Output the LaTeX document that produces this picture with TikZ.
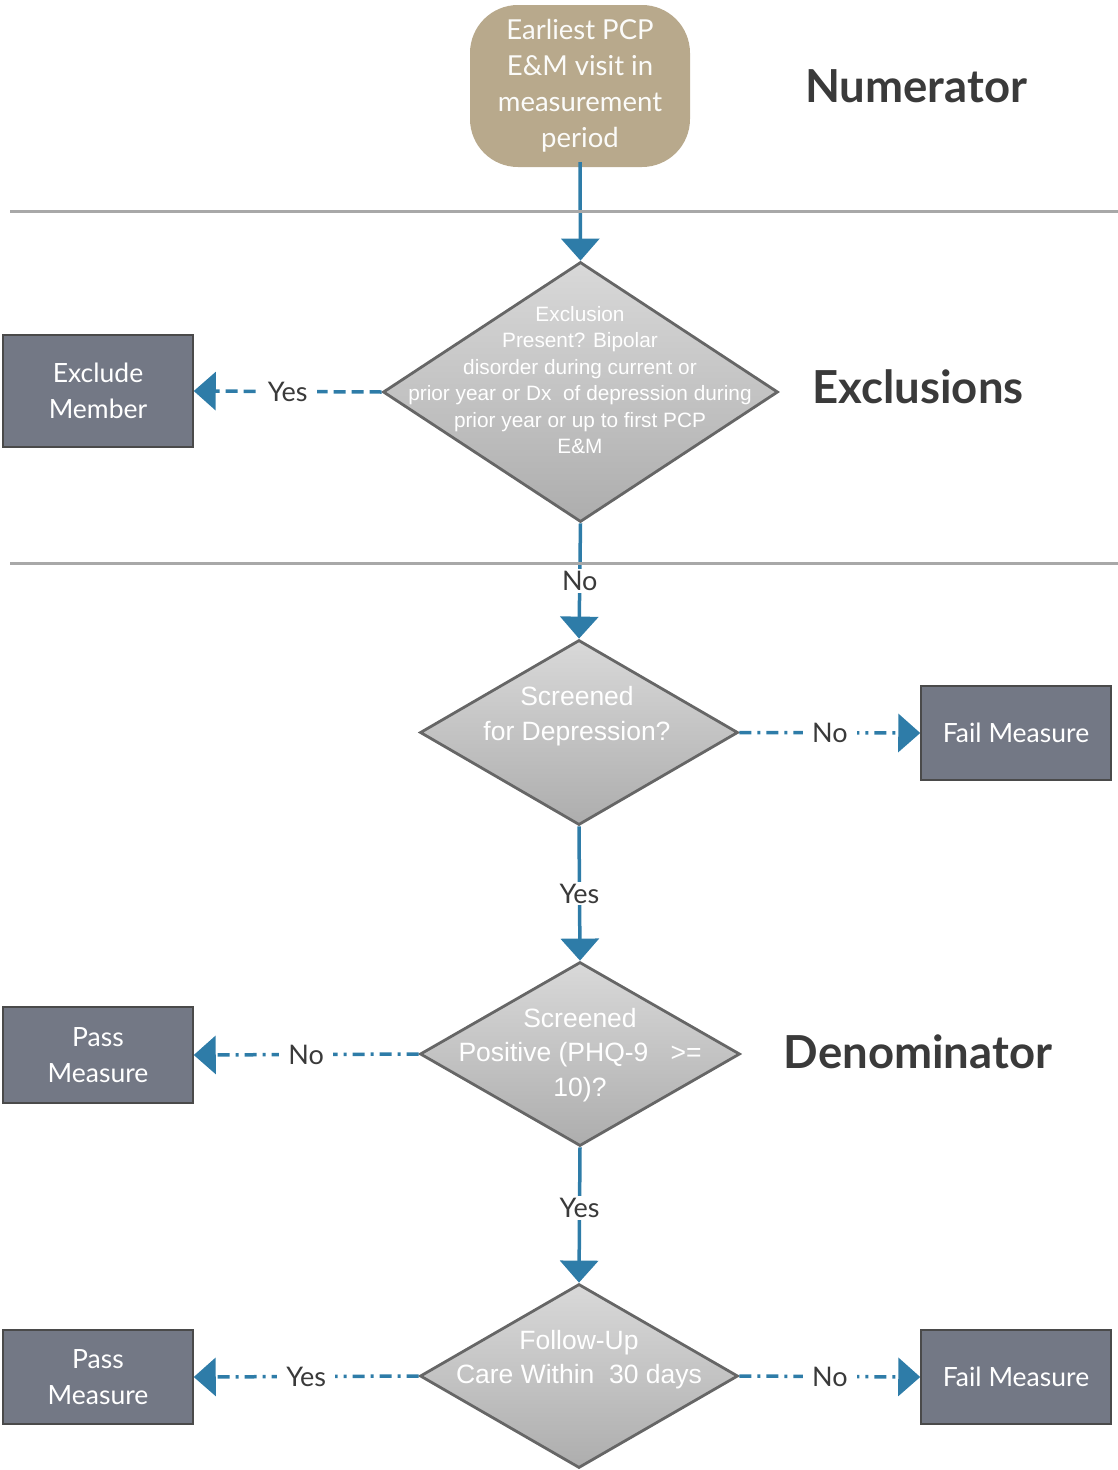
\documentclass[tikz,border=0pt]{standalone}
\usepackage{fontspec}
\setmainfont{Lato}
\newfontfamily\arialf{Liberation Sans}
\usetikzlibrary{arrows.meta,shapes.geometric}
\definecolor{flowblue}{HTML}{2E7CA8}
\definecolor{tan}{HTML}{B8A98C}
\definecolor{boxfill}{HTML}{737885}
\definecolor{boxedge}{HTML}{4A4A4A}
\definecolor{diaedge}{HTML}{666666}
\definecolor{sepgray}{HTML}{A8A8A8}
\definecolor{labgray}{HTML}{3A3A3A}
\tikzset{
  term/.style={rounded corners=48pt, fill=tan, draw=none, text=white!95!tan,
    font=\fontsize{27.5}{36}\selectfont, align=center, inner sep=0pt,
    minimum width=220pt, minimum height=162pt},
  dia/.style={diamond, draw=diaedge, line width=2.8pt, top color=black!15, bottom color=black!32,
    inner sep=0pt},
  dtext/.style={text=white, align=center, inner sep=0pt},
  outbox/.style={rectangle, fill=boxfill, draw=boxedge, line width=1.5pt, text=white,
    font=\fontsize{26.5}{36}\selectfont, align=center, minimum width=190pt, inner sep=0pt},
  title/.style={font=\fontsize{45.5}{50}\selectfont\bfseries, text=labgray},
  flow/.style={draw=flowblue, line width=3.5pt, -{Triangle[width=38pt,length=22pt]}},
  lab/.style={fill=white, text=labgray, font=\fontsize{27}{30}\selectfont, inner xsep=9pt, inner ysep=2pt},
  dashA/.style={dash pattern=on 12pt off 6pt},
  dashB/.style={dash pattern=on 12pt off 6pt on 3pt off 6pt},
  sep/.style={draw=sepgray, line width=3pt}
}
\begin{document}
\begin{tikzpicture}[x=1pt,y=-1pt]
\useasboundingbox (0,0) rectangle (1118,1470);

% nodes
\node[term] (start) at (580,86) {Earliest PCP\\E\&M visit in\\measurement\\period};

\node[dia, minimum width=395pt, minimum height=260pt] (d1) at (580.5,392) {};
\node[dtext, font=\arialf\fontsize{20.8}{26.5}\selectfont] (t1) at (580,380)
  {Exclusion\\Present? Bipolar\\disorder during current or\\prior year or Dx\ \ of depression during\\prior year or up to first PCP\\E\&M};

\node[dia, minimum width=318pt, minimum height=185pt] (d2) at (579,732.5) {};
\node[dtext, font=\arialf\fontsize{26.5}{35}\selectfont] (t2) at (577,716) {Screened\\for Depression?};

\node[dia, minimum width=320pt, minimum height=184pt] (d3) at (580,1054) {};
\node[dtext, font=\arialf\fontsize{26.5}{34.5}\selectfont] (t3) at (580,1055) {Screened\\Positive (PHQ-9\ \ \ >=\\10)?};

\node[dia, minimum width=318pt, minimum height=184pt] (d4) at (579,1376) {};
\node[dtext, font=\arialf\fontsize{26.5}{34}\selectfont] (t4) at (579,1360) {Follow-Up\\Care Within\ \ 30 days};

\node[outbox, minimum height=112pt] (ex) at (98,391) {Exclude\\Member};
\node[outbox, minimum height=94pt] (f1) at (1016,733) {Fail Measure};
\node[outbox, minimum height=96pt] (p1) at (98,1055) {Pass\\Measure};
\node[outbox, minimum height=94pt] (p2) at (98,1377) {Pass\\Measure};
\node[outbox, minimum height=94pt] (f2) at (1016,1377) {Fail Measure};

\node[title] (tn) at (916,86) {Numerator};
\node[title] (te) at (918,387) {Exclusions};
\node[title] (tdn) at (918,1052) {Denominator};

% connectors
\draw[flow] ([yshift=5pt]start.south) -- (d1.north);
\draw[flow, dashA] (d1.west) -- node[lab] {Yes} (ex.east);
\draw[flow] (d1.south) -- node[lab] {No} (d2.north);
\draw[flow, dashB] (d2.east) -- node[lab] {No} (f1.west);
\draw[flow] (d2.south) -- node[lab] {Yes} (d3.north);
\draw[flow, dashB] (d3.west) -- node[lab] {No} (p1.east);
\draw[flow] (d3.south) -- node[lab, pos=0.45] {Yes} (d4.north);
\draw[flow, dashB] (d4.west) -- node[lab] {Yes} (p2.east);
\draw[flow, dashB] (d4.east) -- node[lab] {No} (f2.west);

% separators
\coordinate (s1a) at (10,211); \coordinate (s1b) at (1118,211);
\coordinate (s2a) at (10,563); \coordinate (s2b) at (1118,563);
\draw[sep] (s1a) -- (s1b);
\draw[sep] (s2a) -- (s2b);
\end{tikzpicture}
\end{document}
